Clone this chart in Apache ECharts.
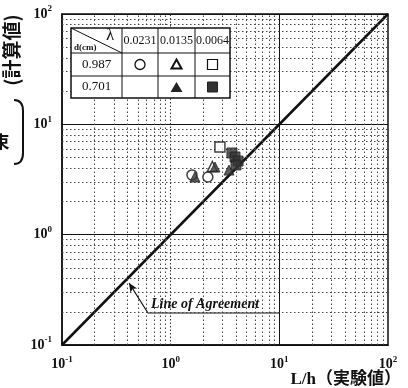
<!DOCTYPE html>
<html><head><meta charset="utf-8">
<script src="https://cdn.jsdelivr.net/npm/echarts@6/dist/echarts.min.js"></script>
<style>html,body{margin:0;padding:0;background:#fff}#c{width:408px;height:388px}</style>
</head><body><div id="c"></div>
<script>
// ---- data ----
var lambdaLabels = ['0.0231', '0.0135', '0.0064'];
var dLabels = ['0.987', '0.701'];
var openCircle = [[1.57, 3.48], [2.20, 3.33]];            // d=0.987, λ=0.0231
var openTriangle = [[2.42, 4.15]];                         // d=0.987, λ=0.0135
var openSquare = [[2.84, 6.23]];                           // d=0.987, λ=0.0064
var filledTriangle = [[2.56, 4.10], [3.44, 3.85], [1.67, 3.33]]; // d=0.701, λ=0.0135
var filledSquare = [[3.66, 5.5], [3.91, 5.06], [4.17, 4.65], [3.99, 4.28]]; // d=0.701, λ=0.0064
var agreement = [[0.1, 0.1], [100, 100]];
var leader = [[0.414, 0.365], [0.618, 0.195], [10, 0.195]];
var minorVals = [0.2,0.3,0.4,0.5,0.6,0.7,0.8,0.9,2,3,4,5,6,7,8,9,20,30,40,50,60,70,80,90];

var serif = '"Liberation Serif","DejaVu Serif",serif';
var cjk = '"Noto Sans CJK JP","Noto Sans CJK SC",sans-serif';
var chart = echarts.init(document.getElementById('c'), null, {renderer: 'canvas'});

function powLabel(v) {
  var e = Math.round(Math.log10(v));
  return '{b|10}{s|' + e + '}';
}
var richLab = {
  b: {fontFamily: serif, fontWeight: 'bold', fontSize: 14, color: '#111'},
  s: {fontFamily: serif, fontWeight: 'bold', fontSize: 9, color: '#111', padding: [0, 0, 10, 0]}
};
var dotted = {color: '#444', type: [1.5, 2.5], width: 1};
var vLines = minorVals.map(function (v) { return {xAxis: v, lineStyle: dotted}; });
vLines.push({xAxis: 1, lineStyle: {color: '#333', type: [1.5, 2], width: 1}});
vLines.push({xAxis: 10, lineStyle: {color: '#111', type: 'solid', width: 1}});
var hLines = minorVals.map(function (v) { return {yAxis: v, lineStyle: dotted}; });

var openStyle = {color: '#fff', borderColor: '#111', borderWidth: 1.5};
var fillStyle = {color: '#333', borderColor: '#222', borderWidth: 1};

chart.setOption({
  animation: false,
  backgroundColor: '#fff',
  grid: {left: 62, right: 20, top: 14, bottom: 43, show: true, borderColor: '#111', borderWidth: 1.5, backgroundColor: 'transparent'},
  xAxis: {
    type: 'log', logBase: 10, min: 0.1, max: 100,
    axisLine: {show: true, lineStyle: {color: '#111', width: 1.5}},
    axisTick: {show: false},
    splitLine: {show: false},
    axisLabel: {formatter: powLabel, rich: richLab, margin: 10}
  },
  yAxis: {
    type: 'log', logBase: 10, min: 0.1, max: 100,
    axisLine: {show: true, lineStyle: {color: '#111', width: 1.5}},
    axisTick: {show: false},
    splitLine: {show: true, lineStyle: {color: '#111', width: 1}},
    axisLabel: {formatter: powLabel, rich: richLab, margin: 10}
  },
  series: [
    {type: 'line', data: [], silent: true,
      markLine: {silent: true, symbol: 'none', label: {show: false}, data: vLines.concat(hLines)}},
    {type: 'line', data: agreement, showSymbol: false, lineStyle: {color: '#111', width: 2.5}, silent: true, z: 3},
    {type: 'line', data: leader.map(function (p, i) {
        return i === 0 ? {value: p, symbol: 'arrow', symbolSize: [6, 9], symbolRotate: 32, itemStyle: {color: '#111'}} : {value: p, symbol: 'none'};
      }), showSymbol: true, showAllSymbol: true, lineStyle: {color: '#111', width: 1.2}, silent: true, z: 3},
    {type: 'scatter', data: openCircle, symbol: 'circle', symbolSize: 10, itemStyle: openStyle, z: 5},
    {type: 'scatter', data: openTriangle, symbol: 'triangle', symbolSize: 10, itemStyle: openStyle, z: 5},
    {type: 'scatter', data: openSquare, symbol: 'rect', symbolSize: 10, itemStyle: openStyle, z: 5},
    {type: 'scatter', data: filledTriangle, symbol: 'triangle', symbolSize: 10, itemStyle: fillStyle, z: 6},
    {type: 'scatter', data: filledSquare, symbol: 'rect', symbolSize: 10, itemStyle: fillStyle, z: 6}
  ]
});

// ---- legend table (pixel layout) ----
var colX = [71, 122, 158, 195, 230];
var rowY = [28, 53, 76, 98];
var g = [];
g.push({type: 'rect', shape: {x: colX[0], y: rowY[0], width: colX[4] - colX[0], height: rowY[3] - rowY[0]},
  style: {fill: '#fff', stroke: '#111', lineWidth: 1.5}, z: 100});
for (var i = 1; i < 4; i++) g.push({type: 'line', shape: {x1: colX[i], y1: rowY[0], x2: colX[i], y2: rowY[3]}, style: {stroke: '#111', lineWidth: 1}, z: 101});
for (var j = 1; j < 3; j++) g.push({type: 'line', shape: {x1: colX[0], y1: rowY[j], x2: colX[4], y2: rowY[j]}, style: {stroke: '#111', lineWidth: 1}, z: 101});
g.push({type: 'line', shape: {x1: colX[0], y1: rowY[0], x2: colX[1], y2: rowY[1]}, style: {stroke: '#111', lineWidth: 1}, z: 101});
g.push({type: 'text', x: 110, y: 36, style: {text: 'λ', font: '17px ' + serif, fill: '#111', textAlign: 'center', textVerticalAlign: 'middle'}, z: 102});
g.push({type: 'text', x: 74, y: 48, style: {text: 'd(cm)', font: 'bold 9px ' + serif, fill: '#111', textAlign: 'left', textVerticalAlign: 'middle'}, z: 102});
for (var k = 0; k < 3; k++) {
  g.push({type: 'text', x: (colX[k + 1] + colX[k + 2]) / 2, y: 41, style: {text: lambdaLabels[k], font: '12px ' + serif, fill: '#111', textAlign: 'center', textVerticalAlign: 'middle'}, z: 102});
}
for (var r = 0; r < 2; r++) {
  g.push({type: 'text', x: (colX[0] + colX[1]) / 2, y: (rowY[r + 1] + rowY[r + 2]) / 2, style: {text: dLabels[r], font: '13px ' + serif, fill: '#111', textAlign: 'center', textVerticalAlign: 'middle'}, z: 102});
}
var cy1 = (rowY[1] + rowY[2]) / 2, cy2 = (rowY[2] + rowY[3]) / 2;
var c1 = (colX[1] + colX[2]) / 2, c2 = (colX[2] + colX[3]) / 2, c3 = (colX[3] + colX[4]) / 2;
g.push({type: 'circle', shape: {cx: c1, cy: cy1, r: 5}, style: {fill: '#fff', stroke: '#111', lineWidth: 1.3}, z: 102});
g.push({type: 'polygon', shape: {points: [[c2, cy1 - 5], [c2 + 5, cy1 + 4], [c2 - 5, cy1 + 4]]}, style: {fill: '#fff', stroke: '#111', lineWidth: 2}, z: 102});
g.push({type: 'rect', shape: {x: c3 - 5, y: cy1 - 5, width: 10, height: 10}, style: {fill: '#fff', stroke: '#111', lineWidth: 1.2}, z: 102});
g.push({type: 'polygon', shape: {points: [[c2, cy2 - 5], [c2 + 6, cy2 + 5], [c2 - 6, cy2 + 5]]}, style: {fill: '#222'}, z: 102});
g.push({type: 'rect', shape: {x: c3 - 5, y: cy2 - 5, width: 10, height: 10}, style: {fill: '#333', stroke: '#222', lineWidth: 1}, z: 102});

// annotation
g.push({type: 'text', x: 151, y: 304, style: {text: 'Line of Agreement', font: 'italic bold 14px ' + serif, fill: '#111', textAlign: 'left', textVerticalAlign: 'middle'}, z: 50});

// axis titles
g.push({type: 'text', x: 12, y: 50, rotation: Math.PI / 2, style: {text: '(計算値)', font: 'bold 19px ' + cjk, fill: '#111', textAlign: 'center', textVerticalAlign: 'middle'}, z: 50});
g.push({type: 'bezierCurve', shape: {x1: 14, y1: 100, x2: 23, y2: 111, cpx1: 23, cpy1: 100}, style: {fill: null, stroke: '#111', lineWidth: 2}, z: 50});
g.push({type: 'line', shape: {x1: 23, y1: 111, x2: 23, y2: 153}, style: {stroke: '#111', lineWidth: 2}, z: 50});
g.push({type: 'bezierCurve', shape: {x1: 23, y1: 153, x2: 14, y2: 164, cpx1: 23, cpy1: 164}, style: {fill: null, stroke: '#111', lineWidth: 2}, z: 50});
g.push({type: 'text', x: 1, y: 142, style: {text: '束', font: 'bold 17px ' + cjk, fill: '#111', textAlign: 'center', textVerticalAlign: 'middle'}, z: 50});
g.push({type: 'text', x: 401, y: 380, style: {text: 'L/h（実験値）', font: 'bold 17px ' + serif + ',' + cjk, fill: '#111', textAlign: 'right', textVerticalAlign: 'middle'}, z: 50});
chart.setOption({graphic: g});
</script></body></html>
